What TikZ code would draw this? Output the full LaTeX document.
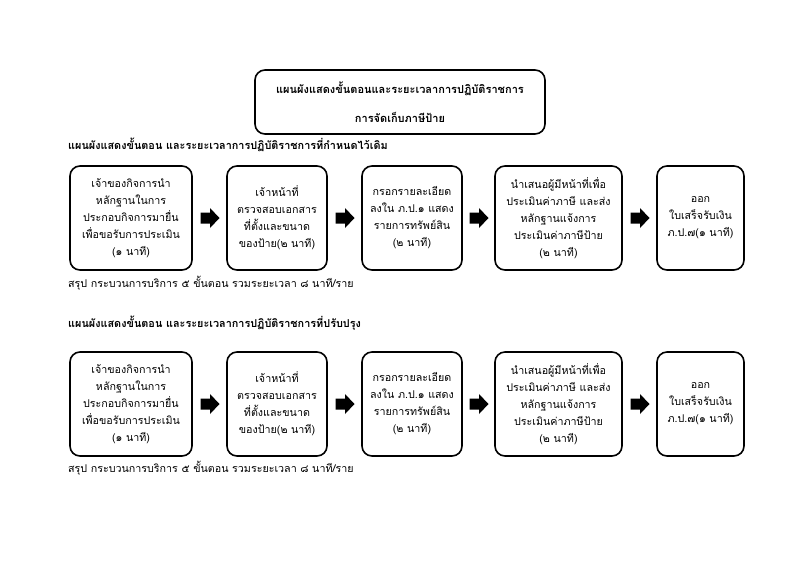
\documentclass[tikz,border=0pt]{standalone}
\usepackage{fontspec}
\setmainfont[Script=Thai]{Loma}
\usetikzlibrary{calc}
\tikzset{
  stepbox/.style={draw=black, line width=1.6pt, rounded corners=10pt, align=center,
    inner sep=0pt, font=\fontsize{10.7}{17}\selectfont},
  blockarrow/.style={fill=black, draw=none},
  headtxt/.style={anchor=west, inner sep=0pt, font=\fontsize{10.85}{13}\selectfont\bfseries},
  sumtxt/.style={anchor=west, inner sep=0pt, font=\fontsize{10.7}{13}\selectfont},
  titletxt/.style={inner sep=0pt, font=\fontsize{11}{13}\selectfont\bfseries}
}
\newcommand{\blockarrowat}[1]{%
  \fill[blockarrow] ([shift={(-9,-5.5)}]#1) -- ([shift={(0.5,-5.5)}]#1) -- ([shift={(0.5,-10)}]#1)
    -- ([shift={(10,0)}]#1) -- ([shift={(0.5,10)}]#1) -- ([shift={(0.5,5.5)}]#1)
    -- ([shift={(-9,5.5)}]#1) -- cycle;}
\begin{document}
\begin{tikzpicture}[x=1pt,y=-1pt]
\useasboundingbox[fill=white] (0,0) rectangle (800,566);
% title
\node[draw=black, line width=1.6pt, rounded corners=10pt, minimum width=290pt, minimum height=64pt, inner sep=0pt] (title) at (400,102) {};
\node[titletxt] (t1) at (400,89) {แผนผังแสดงขั้นตอนและระยะเวลาการปฏิบัติราชการ};
\node[titletxt] (t2) at (400,117) {การจัดเก็บภาษีป้าย};
% rows
\foreach \r/\top/\head/\hy/\sy in {1/166/{แผนผังแสดงขั้นตอน และระยะเวลาการปฏิบัติราชการที่กำหนดไว้เดิม}/145/283,
                                   2/352/{แผนผังแสดงขั้นตอน และระยะเวลาการปฏิบัติราชการที่ปรับปรุง}/323/468}{
  \pgfmathsetmacro{\mid}{\top+52}
  \node[headtxt] (h\r) at (68,\hy) {\head};
  \node[stepbox, minimum width=122pt, minimum height=104pt] (b\r a) at (131,\mid)
    {เจ้าของกิจการนำ\\หลักฐานในการ\\ประกอบกิจการมายื่น\\เพื่อขอรับการประเมิน\\(๑ นาที)};
  \node[stepbox, minimum width=100pt, minimum height=104pt] (b\r b) at (277,\mid)
    {เจ้าหน้าที่\\ตรวจสอบเอกสาร\\ที่ตั้งและขนาด\\ของป้าย(๒ นาที)};
  \node[stepbox, minimum width=100pt, minimum height=104pt] (b\r c) at (412,\mid)
    {กรอกรายละเอียด\\ลงใน ภ.ป.๑ แสดง\\รายการทรัพย์สิน\\(๒ นาที)};
  \node[stepbox, minimum width=127pt, minimum height=104pt] (b\r d) at (558.5,\mid)
    {นำเสนอผู้มีหน้าที่เพื่อ\\ประเมินค่าภาษี และส่ง\\หลักฐานแจ้งการ\\ประเมินค่าภาษีป้าย\\(๒ นาที)};
  \node[stepbox, minimum width=87pt, minimum height=104pt] (b\r e) at (700.5,\mid)
    {ออก\\ใบเสร็จรับเงิน\\ภ.ป.๗(๑ นาที)};
  \coordinate (a\r ab) at ($(b\r a.east)!0.5!(b\r b.west)$);
  \coordinate (a\r bc) at ($(b\r b.east)!0.5!(b\r c.west)$);
  \coordinate (a\r cd) at ($(b\r c.east)!0.5!(b\r d.west)$);
  \coordinate (a\r de) at ($(b\r d.east)!0.5!(b\r e.west)$);
  \blockarrowat{a\r ab}
  \blockarrowat{a\r bc}
  \blockarrowat{a\r cd}
  \blockarrowat{a\r de}
  \node[sumtxt] (s\r) at (68,\sy) {สรุป กระบวนการบริการ ๕ ขั้นตอน รวมระยะเวลา ๘ นาที/ราย};
}
\end{tikzpicture}
\end{document}
